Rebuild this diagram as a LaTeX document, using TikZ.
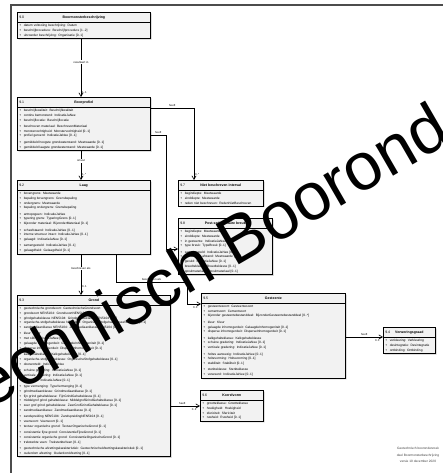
\documentclass[tikz,border=0pt]{standalone}
\usepackage{fontspec}
\setmainfont{Liberation Sans}
\usetikzlibrary{shapes,arrows,shadows}

\newcommand\kop[2]{{\fontsize{3.5}{4}\selectfont\rule[-1.6pt]{0pt}{6.4pt}#1\hfill\textbf{#2}\hfill\phantom{#1}}}
\newcommand\eig{\makebox[4.5pt][l]{+}}

\begin{document}
\begin{tikzpicture}[>=angle 60,x=1pt,y=-1pt,semithick]
\tikzstyle{every node}=[font=\fontsize{3.2}{4.8}\selectfont]
\tikzstyle{klasse}=[rectangle split,rectangle split parts=2,draw=black,fill=black!5,anchor=north west,align=left,
  inner xsep=2pt,inner ysep=1.5pt,drop shadow={shadow xshift=1.2pt,shadow yshift=-1.2pt,opacity=.4}]
\tikzstyle{rol}=[font=\fontsize{2.8}{3}\selectfont,inner sep=.8pt]
\useasboundingbox (0,0) rectangle (442,473);
\draw[black!70,line width=1.2pt] (11,480) -- (11,5) -- (450,5);

% klassen
\node[klasse,text width=129pt] (bmb) at (17,12) {\kop{9.0}{Boormonsterbeschrijving}
\nodepart{two}\eig datum voltooiing beschrijving: Datum\\
\eig beschrijfprocedure: Beschrijfprocedure [1..2]\\
\eig uitvoerder beschrijving: Organisatie [0..1]};

\node[klasse,text width=129pt] (bprof) at (17,97) {\kop{9.1}{Boorprofiel}
\nodepart{two}\eig beschrijfkwaliteit: Beschrijfkwaliteit\\
\eig continu bemonsterd: IndicatieJaNee\\
\eig beschrijflocatie: Beschrijflocatie\\[1.5pt]
\eig beschreven materiaal: BeschrevenMateriaal\\
\eig monstervochtigheid: Monstervochtigheid [0..1]\\
\eig profiel geroerd: IndicatieJaNee [0..1]\\[1.5pt]
\eig gemiddeld hoogste grondwaterstand: Meetwaarde [0..1]\\
\eig gemiddeld laagste grondwaterstand: Meetwaarde [0..1]};

\node[klasse,text width=129pt] (laag) at (17,180) {\kop{9.2}{Laag}
\nodepart{two}\eig bovengrens: Meetwaarde\\
\eig bepaling bovengrens: Grensbepaling\\
\eig ondergrens: Meetwaarde\\
\eig bepaling ondergrens: Grensbepaling\\[1.5pt]
\eig antropogeen: IndicatieJaNee\\
\eig typering grens: TyperingGrens [0..1]\\
\eig bijzonder materiaal: BijzonderMateriaal [0..1]\\[1.5pt]
\eig scheefstaand: IndicatieJaNee [0..1]\\
\eig interne structuur intact: IndicatieJaNee [0..1]\\
\eig gelaagd: IndicatieJaNee [0..1]\\[1.5pt]
\eig samengesteld: IndicatieJaNee [0..1]\\
\eig gelaagdheid: Gelaagdheid [0..1]};

\node[klasse,text width=149pt] (grond) at (17,295) {\kop{9.3}{Grond}
\nodepart{two}\eig geotechnische grondsoort: GeotechnischeGrondsoort\\
\eig grondsoort NEN5104: GrondsoortNEN5104 [0..1]\\
\eig grindgehalteklasse NEN5104: GrindgehalteklasseNEN5104 [0..1]\\
\eig organische-stofgehalteklasse NEN5104: OrganischeStofgehalteklasseNEN5104 [0..1]\\
\eig zandmediaanklasse NEN5104: ZandmediaanklasseNEN5104 [0..1]\\[1.5pt]
\eig kleur: Kleur\\
\eig met slib: IndicatieJaNee [0..1]\\
\eig gelaagde inhomogeniteit: GelaagdeInhomogeniteit [0..1]\\
\eig disperse inhomogeniteit: DisperseInhomogeniteit [0..1]\\[1.5pt]
\eig kalkgehalteklasse: Kalkgehalteklasse [0..1]\\
\eig organische-stofgehalteklasse: OrganischeStofgehalteklasse [0..1]\\
\eig doorworteld: IndicatieJaNee\\[1.5pt]
\eig schuine gradering: IndicatieJaNee [0..1]\\
\eig verticale gradering: IndicatieJaNee [0..1]\\
\eig vermengd: IndicatieJaNee [0..1]\\[1.5pt]
\eig type vermenging: TypeVermenging [0..1]\\
\eig grindmediaanklasse: Grindmediaanklasse [0..1]\\
\eig fijn grind gehalteklasse: FijnGrindGehalteklasse [0..1]\\
\eig middelgrof grind gehalteklasse: MiddelgrofGrindGehalteklasse [0..1]\\
\eig zeer grof grind gehalteklasse: ZeerGrofGrindGehalteklasse [0..1]\\
\eig zandmediaanklasse: Zandmediaanklasse [0..1]\\[1.5pt]
\eig zandspreiding NEN5104: ZandspreidingNEN5104 [0..1]\\
\eig veensoort: Veensoort [0..1]\\
\eig textuur organische grond: TextuurOrganischeGrond [0..1]\\[1.5pt]
\eig consistentie fijne grond: ConsistentieFijneGrond [0..1]\\
\eig consistentie organische grond: ConsistentieOrganischeGrond [0..1]\\
\eig treksterkte veen: TreksterkteVeen [0..1]\\[1.5pt]
\eig geotechnische afzettingskarakteristiek: GeotechnischeAfzettingskarakteristiek [0..1]\\
\eig ouderdom afzetting: OuderdomAfzetting [0..1]};

\node[klasse,text width=140pt] (gest) at (201,293) {\kop{9.5}{Gesteente}
\nodepart{two}\eig gesteentesoort: Gesteentesoort\\
\eig cementsoort: Cementsoort\\
\eig bijzonder gesteentebestanddeel: BijzonderGesteentebestanddeel [0..*]\\[1.5pt]
\eig kleur: Kleur\\
\eig gelaagde inhomogeniteit: GelaagdeInhomogeniteit [0..1]\\
\eig disperse inhomogeniteit: DisperseInhomogeniteit [0..1]\\[1.5pt]
\eig kalkgehalteklasse: Kalkgehalteklasse\\
\eig schuine gradering: IndicatieJaNee [0..1]\\
\eig verticale gradering: IndicatieJaNee [0..1]\\[1.5pt]
\eig holtes aanwezig: IndicatieJaNee [0..1]\\
\eig holtevorming: Holtevorming [0..1]\\
\eig stabiliteit: Stabiliteit [0..1]\\[1.5pt]
\eig sterkteklasse: Sterkteklasse\\
\eig verweerd: IndicatieJaNee [0..1]};

\node[klasse,text width=48pt] (verw) at (383,327) {\kop{9.4}{Verweringsgraad}
\nodepart{two}\eig verkleuring: Verkleuring\\
\eig desintegratie: Desintegratie\\
\eig ontbinding: Ontbinding};

\node[klasse,text width=59pt] (korrel) at (200,390) {\kop{9.6}{Korrelvorm}
\nodepart{two}\eig grootteklasse: Grootteklasse\\
\eig hoekigheid: Hoekigheid\\
\eig sfericiteit: Sfericiteit\\
\eig ruwheid: Ruwheid [0..1]};

\node[klasse,text width=81pt] (nbi) at (178,180) {\kop{9.7}{Niet beschreven interval}
\nodepart{two}\eig begindiepte: Meetwaarde\\
\eig einddiepte: Meetwaarde\\
\eig reden niet beschreven: RedenNietBeschreven};

\node[klasse,text width=90pt] (psb) at (178,218) {\kop{9.8}{Post-sedimentaire breuk}
\nodepart{two}\eig begindiepte: Meetwaarde\\
\eig einddiepte: Meetwaarde\\
\eig in gesteente: IndicatieJaNee\\
\eig type breuk: TypeBreuk [0..1]\\[1.5pt]
\eig samengesteld: IndicatieJaNee [0..1]\\
\eig gemiddelde afstand: Meetwaarde [0..1]\\
\eig gevuld: IndicatieJaNee [0..1]\\
\eig breedteklasse: Breedteklasse [0..1]\\
\eig opvulmateriaal: Opvulmateriaal [0..1]};

% hulppunten voor de verbindingen
\coordinate (sp) at (81,0);
\coordinate (r1) at (194,108);
\coordinate (r2) at (166,135);
\coordinate (r3) at (166,249);
\coordinate (c1) at (116,282);
\coordinate (c2) at (187,304);
\coordinate (kv) at (185,406);
\coordinate (vw) at (365,337);

\draw[->] (bmb.south -| sp) -- node[rol,fill=white,pos=.4]{resulteert in} node[rol,pos=.93,right]{1..1} (bprof.north -| sp);
\draw[->] (bprof.south -| sp) -- node[rol,fill=white,pos=.35]{omvat} node[rol,pos=.8,right]{1..*} (laag.north -| sp);
\draw[->] (laag.south -| sp) -- node[rol,fill=white,pos=.35]{beschreven als} node[rol,pos=.8,right]{0..1} (grond.north -| sp);
\draw[->] (laag.south -| c1) -- (c1) -| node[rol,pos=.25,above]{beschreven als} (c2) -- node[rol,pos=.6,below=1.5pt]{0..1} (gest.west |- c2);
\draw[->] (bprof.east |- r1) -| node[rol,pos=.25,above]{heeft} node[rol,pos=.96,right]{0..*} (nbi.north -| r1);
\draw[->] (bprof.east |- r2) -| node[rol,pos=.25,above]{heeft} (r3) -- (psb.west |- r3);
\draw[->] (grond.east |- kv) -- node[rol,pos=.4,above]{heeft} node[rol,pos=.8,below=1pt]{0..1} (korrel.west |- kv);
\draw[->] (gest.east |- vw) -- node[rol,pos=.5,above]{heeft} node[rol,pos=.85,below=1pt]{0..1} (verw.west |- vw);

\node[align=center,text=black!75,font=\fontsize{3.2}{6.5}\selectfont] (voet) at (418,455)
  {Geotechnisch booronderzoek\\deel Boormonsterbeschrijving\\versie 10 december 2020};

% watermerk
\begin{scope}
\clip (0,0) rectangle (442,473);
\node[font=\fontsize{67}{67}\selectfont,rotate=30,anchor=base west,inner sep=0] (wm) at (-40,426) {Technisch Booronderzoek};
\end{scope}
\end{tikzpicture}
\end{document}
